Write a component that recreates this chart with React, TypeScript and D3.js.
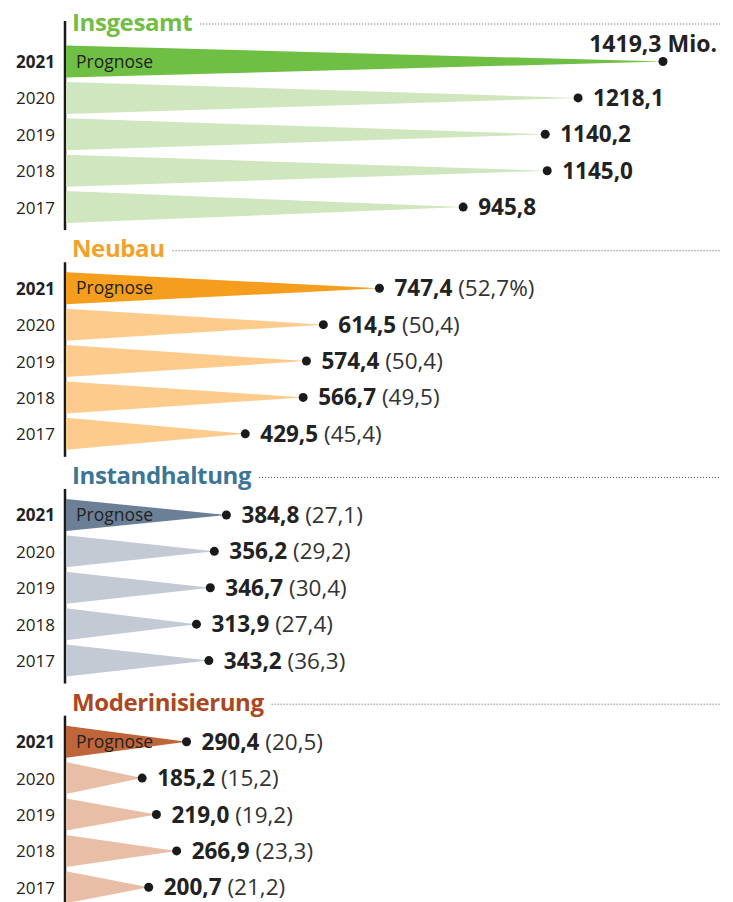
import React, { useEffect, useRef } from "react";
import * as d3 from "d3";

const years = ["2021", "2020", "2019", "2018", "2017"];
const sectionNames = ["Insgesamt", "Neubau", "Instandhaltung", "Moderinisierung"];
const insgesamtValues = [1419.3, 1218.1, 1140.2, 1145.0, 945.8];
const neubauValues = [747.4, 614.5, 574.4, 566.7, 429.5];
const neubauShares = [52.7, 50.4, 50.4, 49.5, 45.4];
const instandValues = [384.8, 356.2, 346.7, 313.9, 343.2];
const instandShares = [27.1, 29.2, 30.4, 27.4, 36.3];
const moderValues = [290.4, 185.2, 219.0, 266.9, 200.7];
const moderShares = [20.5, 15.2, 19.2, 23.3, 21.2];
const forecastLabel = "Prognose";
const unitLabel = "Mio.";

const headColors = ["#72bd44", "#f2a22b", "#3c7595", "#ab4722"];
const darkColors = ["#70bf45", "#f59d1d", "#6b7f96", "#c0653a"];
const lightColors = ["#cfe6bf", "#fdcb8c", "#c3cad4", "#e8bfa6"];

const W = 733;
const H = 902;
const FONT = "'Open Sans', 'Noto Sans', sans-serif";

export default function App() {
  const ref = useRef<SVGSVGElement | null>(null);

  useEffect(() => {
    const svg = d3.select(ref.current);
    svg.selectAll("*").remove();

    const sections = [
      { name: sectionNames[0], values: insgesamtValues, shares: null as number[] | null },
      { name: sectionNames[1], values: neubauValues, shares: neubauShares },
      { name: sectionNames[2], values: instandValues, shares: instandShares },
      { name: sectionNames[3], values: moderValues, shares: moderShares },
    ];

    const fmt = (v: number) => d3.format(".1f")(v).replace(".", ",");
    const x = d3.scaleLinear().domain([0, 1419.3]).range([64, 663]);
    const secY = d3.scaleLinear().domain([0, 3]).range([61.5, 741.7]);
    const rowY = d3.scaleLinear().domain([0, 4]).range([0, 145.6]);
    const halfH = 16;
    const axisX = 65;

    sections.forEach((sec, si) => {
      const g = svg.append("g");
      const y0 = secY(si);

      // heading
      const head = g
        .append("text")
        .attr("x", 72)
        .attr("y", y0 - 31)
        .attr("font-family", FONT)
        .attr("font-weight", 700)
        .attr("font-size", 24)
        .attr("letter-spacing", -0.4)
        .attr("fill", headColors[si])
        .text(sec.name);
      const tw = (head.node() as SVGTextElement).getComputedTextLength();
      g.append("line")
        .attr("x1", 72 + tw + 8)
        .attr("x2", 720)
        .attr("y1", y0 - 37.5)
        .attr("y2", y0 - 37.5)
        .attr("stroke", "#555")
        .attr("stroke-width", 1)
        .attr("stroke-dasharray", "1,2");

      // axis line
      g.append("line")
        .attr("x1", axisX)
        .attr("x2", axisX)
        .attr("y1", si === 0 ? 21 : y0 - 26)
        .attr("y2", Math.min(H, y0 + rowY(4) + 23))
        .attr("stroke", "#1a1a1a")
        .attr("stroke-width", 2.5);

      sec.values.forEach((v, i) => {
        const cy = y0 + rowY(i);
        const tip = x(v);
        const path = d3.path();
        path.moveTo(axisX + 1, cy - halfH);
        path.lineTo(tip, cy);
        path.lineTo(axisX + 1, cy + halfH);
        path.closePath();
        g.append("path")
          .attr("d", path.toString())
          .attr("fill", i === 0 ? darkColors[si] : lightColors[si]);

        // year label
        g.append("text")
          .attr("x", 55)
          .attr("y", cy + 6.5)
          .attr("text-anchor", "end")
          .attr("font-family", FONT)
          .attr("font-size", 17)
          .attr("font-weight", i === 0 ? 700 : 400)
          .attr("fill", "#222")
          .text(years[i]);

        if (i === 0) {
          g.append("text")
            .attr("x", 76)
            .attr("y", cy + 6)
            .attr("font-family", FONT)
            .attr("font-size", 17.5)
            .attr("fill", "#222")
            .text(forecastLabel);
        }

        g.append("circle").attr("cx", tip).attr("cy", cy).attr("r", 4.5).attr("fill", "#1a1a1a");

        if (si === 0 && i === 0) {
          g.append("text")
            .attr("x", tip + 54)
            .attr("y", cy - 10)
            .attr("text-anchor", "end")
            .attr("font-family", FONT)
            .attr("font-size", 23)
            .attr("font-weight", 700)
            .attr("fill", "#222")
            .text(`${fmt(v)} ${unitLabel}`);
        } else {
          const t = g
            .append("text")
            .attr("x", tip + 15)
            .attr("y", cy + 8)
            .attr("font-family", FONT)
            .attr("font-size", 22.5)
            .attr("fill", "#222");
          t.append("tspan").attr("font-weight", 700).text(fmt(v));
          if (sec.shares) {
            const s = fmt(sec.shares[i]);
            t.append("tspan")
              .attr("font-weight", 400)
              .attr("fill", "#333")
              .text(` (${s}${si === 1 && i === 0 ? "%" : ""})`);
          }
        }
      });
    });
  }, []);

  return (
    <svg
      ref={ref}
      width={W}
      height={H}
      style={{ position: "absolute", left: 0, top: 0, background: "#fff" }}
    />
  );
}
